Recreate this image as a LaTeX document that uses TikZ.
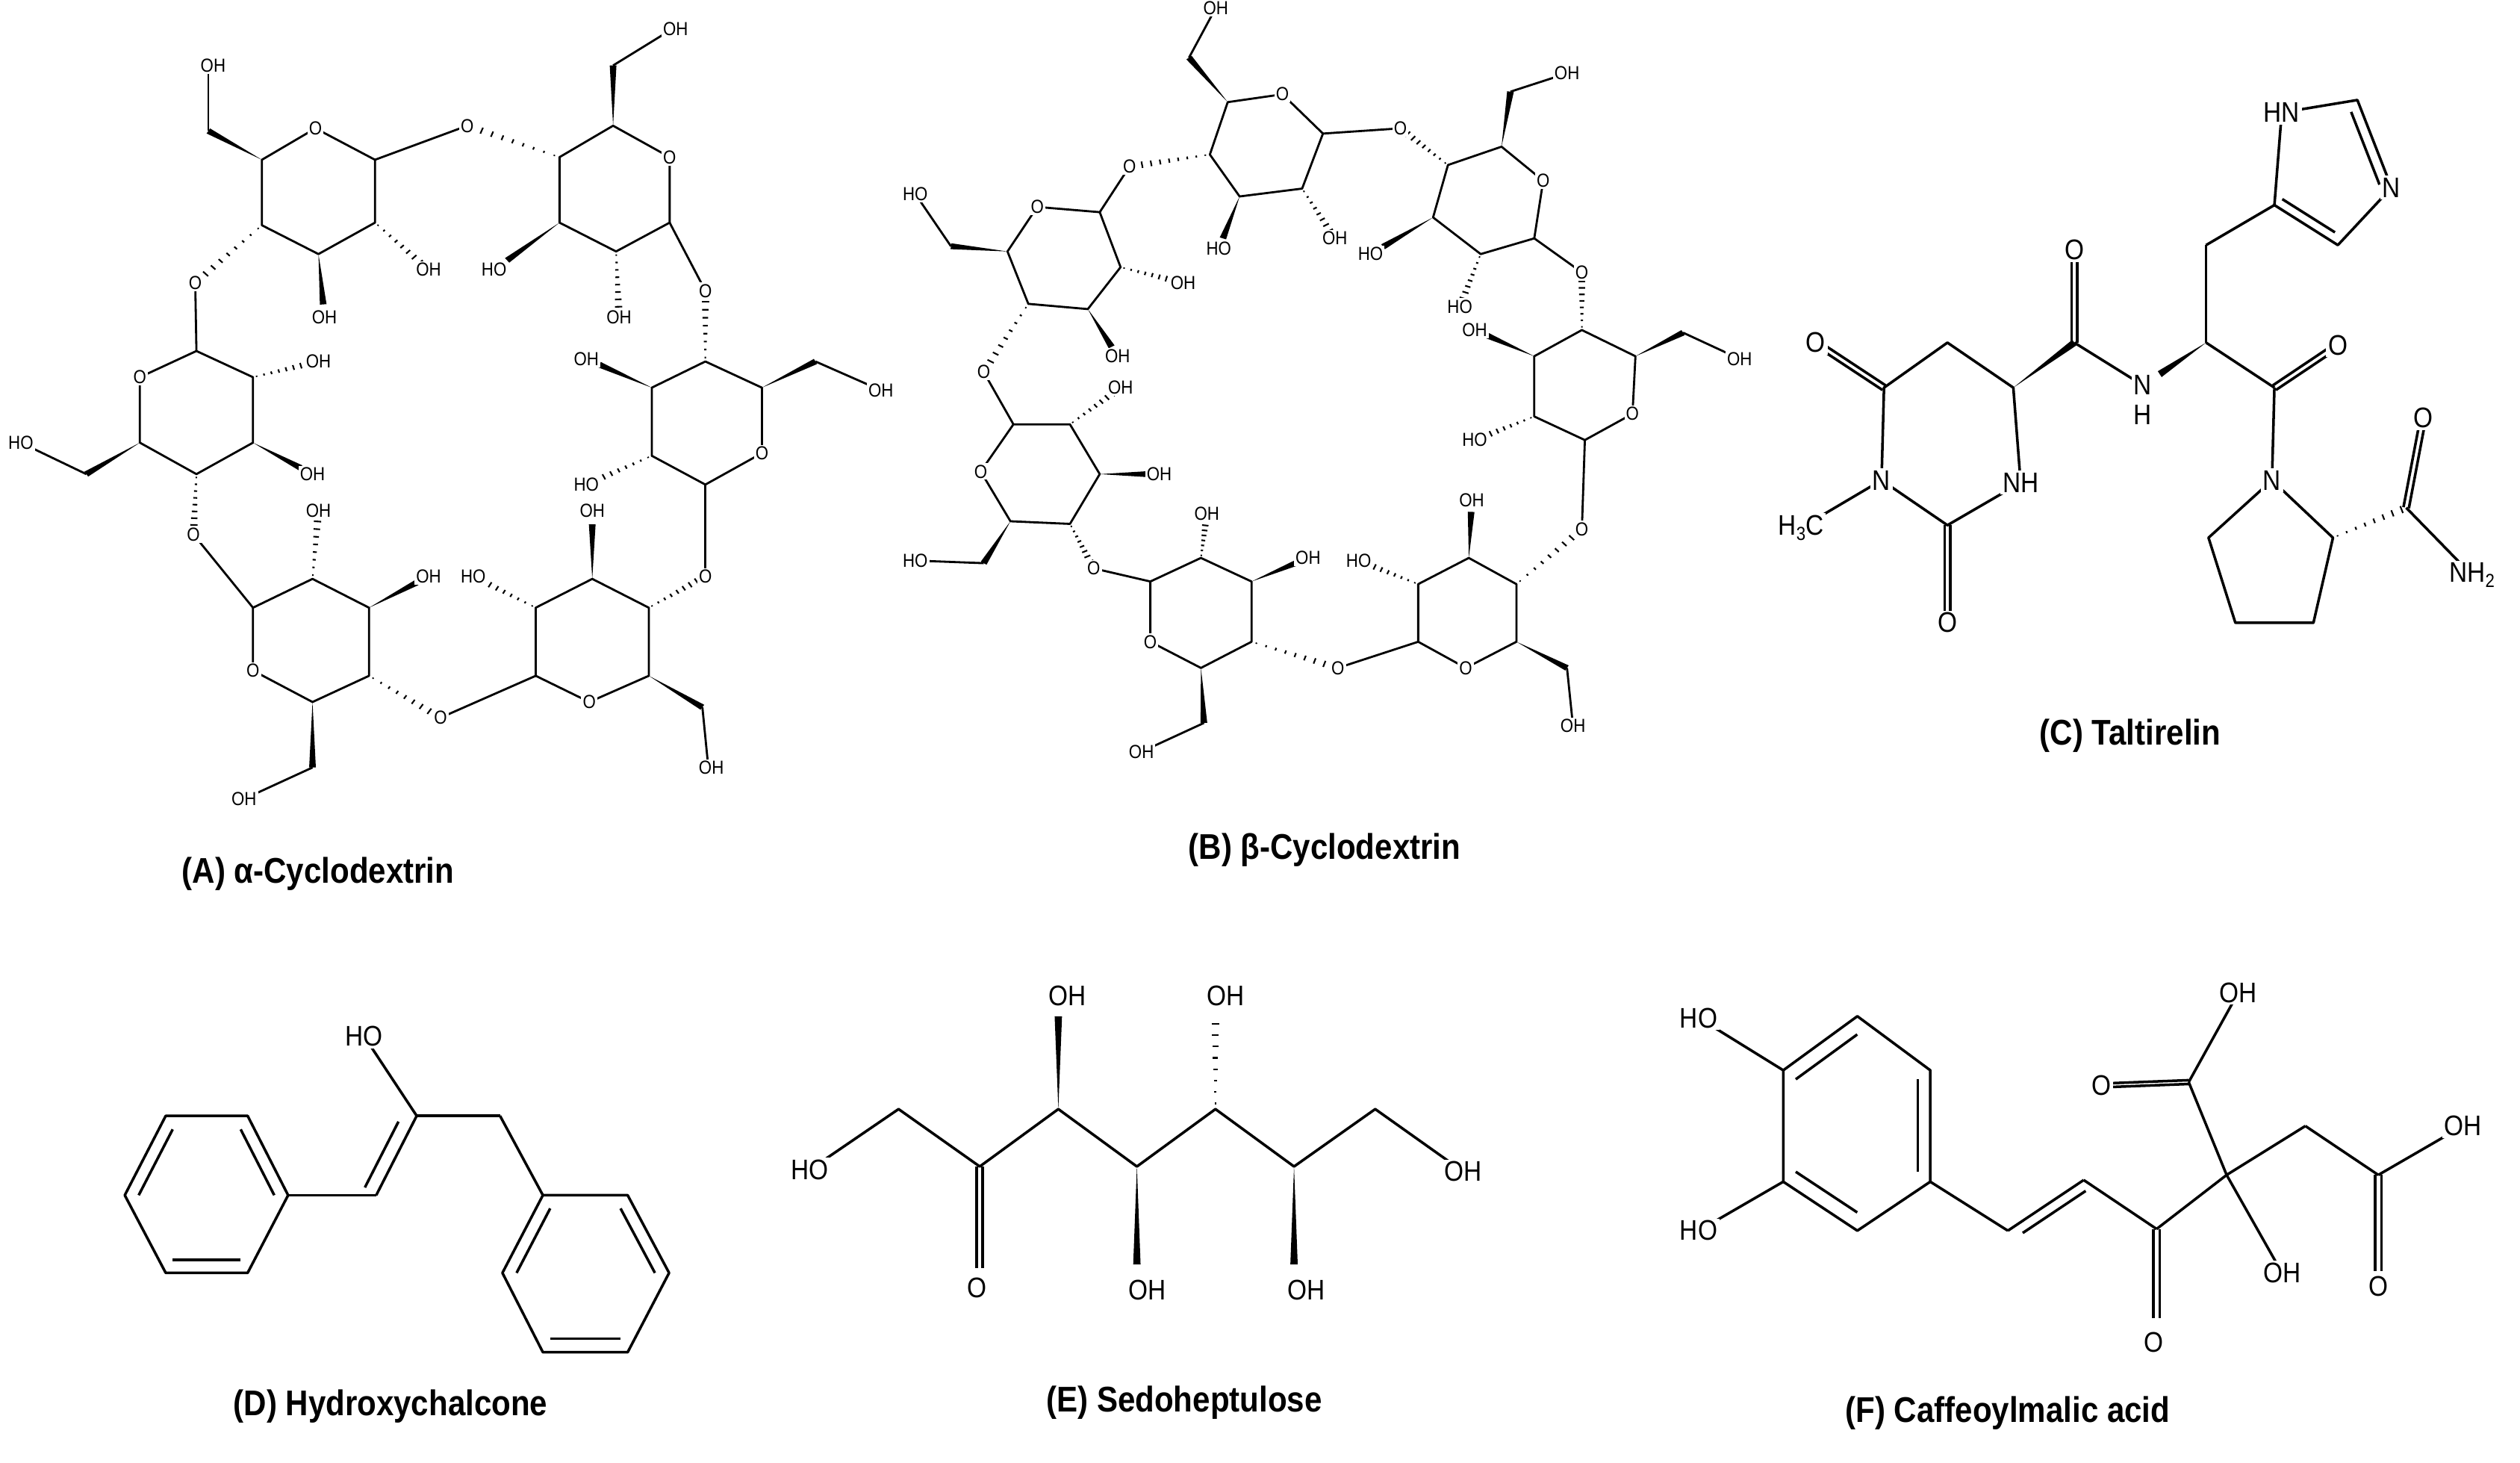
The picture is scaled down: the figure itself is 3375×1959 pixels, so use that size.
\documentclass[tikz,border=0pt]{standalone}
\usepackage{fontspec}
\setmainfont[FakeStretch=0.88]{Liberation Sans}
\usetikzlibrary{calc}
\def\wdw{1pt}\def\wdwn{1}\def\dbw{0.8pt}
\newcommand\bd[2]{\draw (#1) -- (#2);}
\newcommand\wdg[2]{\fill (#1) -- ($(#2)!\wdw!90:(#1)$) -- ($(#2)!\wdw!-90:(#1)$) -- cycle;}
\newcommand\wdgL[2]{\coordinate (tmpe) at ($(#1)!0.8!(#2)$); \wdg{#1}{tmpe}}
\newcommand\hsh[2]{\foreach \hh in {1,...,8}{\pgfmathsetmacro\ff{(\hh-0.5)/8}\pgfmathsetmacro\dd{0.12+\ff*\wdwn}\draw[line width=0.3pt] ($(#1)!\ff!(#2)!\dd pt!90:(#2)$) -- ($(#1)!\ff!(#2)!\dd pt!-90:(#2)$);}}
\newcommand\hshL[2]{\coordinate (tmph) at ($(#1)!0.9!(#2)$); \hsh{#1}{tmph}}
\newcommand\inb[3]{\draw ($(#1)!0.17!(#3)$) -- ($(#2)!0.17!(#3)$);}
\newcommand\dbo[2]{\draw ($(#1)!\dbw!90:(#2)$) -- ($(#2)!\dbw!-90:(#1)$); \draw ($(#1)!\dbw!-90:(#2)$) -- ($(#2)!\dbw!90:(#1)$);}
\newcommand\lb[2]{\node[lbl] at (#1) {#2};}
\newcommand\smlab[2]{\node[slb] at (#1) {#2};}
\tikzset{
 lbl/.style={font=\fontsize{5.4}{6}\selectfont, fill=white, inner sep=0.4pt},
 slb/.style={font=\fontsize{3.6}{4}\selectfont, fill=white, inner sep=0.3pt},
 ttl/.style={font=\bfseries\fontsize{6.8}{8}\selectfont, inner sep=0pt},
}
\begin{document}
\begin{tikzpicture}[x=0.05mm,y=-0.05mm,line width=0.5pt,line join=round]
\useasboundingbox[fill=white] (0,0) rectangle (3375,1959);
%================ A
\begin{scope}[xscale=0.7972,yscale=0.7015,line width=0.4pt]
\def\wdw{0.8pt}\def\wdwn{0.8}
\draw (440,305)--(530,245)--(630,305)--(630,425)--(535,485)--(440,430)--cycle;
\wdg{440,305}{350,250}\bd{350,250}{350,140}
\bd{630,305}{785,240}\hshL{630,425}{720,515}\wdgL{535,485}{545,605}\hshL{440,430}{328,540}
\draw (1030,240)--(1125,300)--(1125,425)--(1035,480)--(940,425)--(940,300)--cycle;
\wdg{1030,240}{1030,125}\bd{1030,125}{1130,55}
\hshL{940,300}{785,240}\wdgL{940,425}{830,515}\hshL{1035,480}{1040,605}\bd{1125,425}{1185,555}
\draw (1185,690)--(1280,740)--(1280,865)--(1185,925)--(1095,870)--(1095,740)--cycle;
\hshL{1185,690}{1185,555}\wdg{1280,740}{1370,690}\bd{1370,690}{1480,745}
\wdgL{1095,740}{985,685}\hshL{1095,870}{985,925}\bd{1185,925}{1185,1100}
\draw (995,1105)--(1090,1160)--(1090,1290)--(990,1340)--(900,1290)--(900,1160)--cycle;
\hshL{1090,1160}{1185,1100}\wdg{1090,1290}{1180,1350}\bd{1180,1350}{1190,1465}
\wdgL{995,1105}{995,975}\hshL{900,1160}{795,1100}\bd{900,1290}{740,1370}
\draw (525,1105)--(620,1160)--(620,1290)--(525,1340)--(425,1280)--(425,1160)--cycle;
\hshL{620,1290}{740,1370}\wdg{525,1340}{525,1465}\bd{525,1465}{410,1525}
\hshL{525,1105}{535,975}\wdgL{620,1160}{720,1100}\bd{425,1160}{325,1020}
\draw (330,670)--(425,720)--(425,845)--(330,905)--(235,845)--(235,720)--cycle;
\hshL{330,905}{325,1020}\wdg{235,845}{145,905}\bd{145,905}{35,845}
\bd{330,670}{328,540}\hshL{425,720}{535,690}\wdgL{425,845}{525,905}
\smlab{530,245}{O}\smlab{358,125}{OH}\smlab{785,240}{O}\smlab{720,515}{OH}\smlab{545,605}{OH}\smlab{328,540}{O}
\smlab{1125,300}{O}\smlab{1135,55}{OH}\smlab{830,515}{HO}\smlab{1040,605}{OH}\smlab{1185,555}{O}
\smlab{1280,865}{O}\smlab{1480,745}{OH}\smlab{985,685}{OH}\smlab{985,925}{HO}\smlab{1185,1100}{O}
\smlab{990,1340}{O}\smlab{1195,1465}{OH}\smlab{995,975}{OH}\smlab{795,1100}{HO}\smlab{740,1370}{O}
\smlab{425,1280}{O}\smlab{410,1525}{OH}\smlab{535,975}{OH}\smlab{720,1100}{OH}\smlab{325,1020}{O}
\smlab{235,720}{O}\smlab{35,845}{HO}\smlab{535,690}{OH}\smlab{525,905}{OH}
\end{scope}
\node[ttl] (ta) at (426,1170) {(A) α-Cyclodextrin};
%================ B
\begin{scope}[shift={(1150,0)},xscale=0.7972,yscale=0.7015,line width=0.4pt]
\def\wdw{0.8pt}\def\wdwn{0.8}
\draw (620,195)--(712,180)--(780,255)--(745,360)--(640,375)--(590,295)--cycle;
\wdg{620,195}{555,110}\bd{555,110}{600,15}
\bd{780,255}{910,245}\hshL{590,295}{455,318}\wdgL{640,375}{605,475}\hshL{745,360}{800,455}
\draw (1080,280)--(1150,345)--(1135,455)--(1045,485)--(965,415)--(990,315)--cycle;
\hshL{990,315}{910,245}\wdg{1080,280}{1095,175}\bd{1095,175}{1190,140}
\wdgL{965,415}{860,485}\hshL{1045,485}{1010,585}\bd{1135,455}{1215,520}
\draw (1215,630)--(1305,680)--(1300,790)--(1220,840)--(1135,795)--(1135,680)--cycle;
\hshL{1215,630}{1215,520}\wdg{1305,680}{1385,635}\bd{1385,635}{1480,685}
\wdgL{1135,680}{1035,630}\hshL{1135,795}{1035,840}\bd{1220,840}{1215,1010}
\draw (1025,1065)--(1105,1115)--(1105,1225)--(1020,1275)--(940,1225)--(940,1115)--cycle;
\hshL{1105,1115}{1215,1010}\wdg{1105,1225}{1190,1275}\bd{1190,1275}{1200,1385}
\wdgL{1025,1065}{1030,955}\hshL{940,1115}{840,1070}\bd{940,1225}{805,1275}
\draw (575,1065)--(660,1110)--(660,1225)--(575,1275)--(490,1225)--(490,1110)--cycle;
\hshL{660,1225}{805,1275}\wdg{575,1275}{580,1380}\bd{580,1380}{475,1435}
\hshL{575,1065}{585,980}\wdgL{660,1110}{755,1065}\bd{490,1110}{395,1085}
\draw (260,810)--(355,810)--(405,905)--(355,1000)--(255,995)--(205,900)--cycle;
\hshL{355,1000}{395,1085}\wdg{255,995}{210,1075}\bd{210,1075}{95,1070}
\bd{260,810}{210,710}\hshL{355,810}{440,740}\wdgL{405,905}{505,905}
\draw (250,480)--(300,395)--(405,405)--(440,510)--(385,590)--(285,580)--cycle;
\hshL{285,580}{210,710}\wdg{250,480}{155,470}\bd{155,470}{95,370}
\hshL{440,510}{545,540}\wdgL{385,590}{435,680}\bd{405,405}{455,318}
\smlab{712,180}{O}\smlab{600,15}{OH}\smlab{910,245}{O}\smlab{455,318}{O}\smlab{605,475}{HO}\smlab{800,455}{OH}
\smlab{1150,345}{O}\smlab{1190,140}{OH}\smlab{860,485}{HO}\smlab{1010,585}{HO}\smlab{1215,520}{O}
\smlab{1300,790}{O}\smlab{1480,685}{OH}\smlab{1035,630}{OH}\smlab{1035,840}{HO}\smlab{1215,1010}{O}
\smlab{1020,1275}{O}\smlab{1200,1385}{OH}\smlab{1030,955}{OH}\smlab{840,1070}{HO}\smlab{805,1275}{O}
\smlab{490,1225}{O}\smlab{475,1435}{OH}\smlab{585,980}{OH}\smlab{755,1065}{OH}\smlab{395,1085}{O}
\smlab{205,900}{O}\smlab{95,1070}{HO}\smlab{210,710}{O}\smlab{440,740}{OH}\smlab{505,905}{OH}
\smlab{300,395}{O}\smlab{95,370}{HO}\smlab{545,540}{OH}\smlab{435,680}{OH}
\end{scope}
\node[ttl] (tb) at (1774,1138) {(B) β-Cyclodextrin};
%================ C
\begin{scope}[shift={(2350,0)},xscale=0.6536,yscale=0.6698]
\draw (265,775)--(395,685)--(530,775)--(545,965)--(395,1050)--(260,960)--cycle;
\dbo{265,775}{125,685}\bd{260,960}{95,1055}\dbo{395,1050}{395,1245}
\wdg{530,775}{655,685}\dbo{655,685}{655,500}\bd{655,685}{795,770}
\wdg{925,685}{830,748}\bd{925,685}{925,490}\bd{925,490}{1065,410}
\draw (1065,410)--(1080,225)--(1235,200)--(1305,375)--(1195,490)--cycle;
\inb{1235,200}{1305,375}{1160,340}\inb{1195,490}{1065,410}{1160,340}
\bd{925,685}{1065,775}\dbo{1065,775}{1195,690}\bd{1065,775}{1060,960}
\draw (1060,960)--(1185,1075)--(1145,1245)--(985,1245)--(930,1075)--cycle;
\hsh{1185,1075}{1335,1015}\dbo{1335,1015}{1370,835}\bd{1335,1015}{1470,1150}
\lb{125,685}{O}\lb{95,1055}{H\raisebox{-0.35ex}{\fontsize{3.6}{4}\selectfont 3}C}\lb{395,1245}{O}
\lb{545,965}{NH}\lb{260,960}{N}\lb{655,500}{O}\lb{795,770}{N}\lb{795,830}{H}
\lb{1080,225}{HN}\lb{1305,375}{N}\lb{1195,690}{O}\lb{1060,960}{N}\lb{1370,835}{O}
\lb{1470,1150}{NH\raisebox{-0.35ex}{\fontsize{3.6}{4}\selectfont 2}}
\end{scope}
\node[ttl] (tc) at (2853,985) {(C) Taltirelin};
%================ D
\begin{scope}[shift={(0,1250)},xscale=0.6378,yscale=0.4522]
\draw (348,540)--(520,540)--(605,775)--(520,1005)--(348,1005)--(262,775)--cycle;
\inb{262,775}{348,540}{434,775}\inb{520,540}{605,775}{434,775}\inb{520,1005}{348,1005}{434,775}
\bd{605,775}{790,775}\bd{790,775}{875,540}\inb{790,775}{875,540}{650,640}
\bd{875,540}{765,305}\bd{875,540}{1050,540}\bd{1050,540}{1140,775}
\draw (1140,775)--(1318,775)--(1405,1005)--(1318,1240)--(1140,1240)--(1055,1005)--cycle;
\inb{1140,775}{1055,1005}{1230,1005}\inb{1318,775}{1405,1005}{1230,1005}\inb{1318,1240}{1140,1240}{1230,1005}
\lb{765,305}{HO}
\end{scope}
\node[ttl] (td) at (523,1883) {(D) Hydroxychalcone};
%================ E
\begin{scope}[shift={(1000,1250)},xscale=0.7015,yscale=0.4522]
\draw (120,700)--(290,520)--(445,690)--(595,520)--(745,690)--(895,520)--(1045,690)--(1200,520)--(1368,705);
\dbo{445,690}{445,990}
\wdg{595,520}{595,245}\hsh{895,520}{895,250}\wdg{745,690}{745,980}\wdg{1045,690}{1045,980}
\lb{120,700}{HO}\lb{440,1050}{O}\lb{612,185}{OH}\lb{915,185}{OH}\lb{765,1055}{OH}\lb{1068,1055}{OH}\lb{1368,705}{OH}
\end{scope}
\node[ttl] (te) at (1586,1878) {(E) Sedoheptulose};
%================ F
\begin{scope}[shift={(2150,1250)},xscale=0.7813,yscale=0.4522]
\draw (432,245)--(557,405)--(557,735)--(432,880)--(305,735)--(305,405)--cycle;
\inb{305,405}{432,245}{431,562}\inb{557,405}{557,735}{431,562}\inb{305,735}{432,880}{431,562}
\bd{305,405}{160,250}\bd{305,735}{160,880}
\bd{557,735}{690,880}\bd{690,880}{820,730}\inb{690,880}{820,730}{840,920}
\bd{820,730}{945,875}\dbo{945,875}{945,1140}
\bd{945,875}{1065,715}\bd{1065,715}{1000,440}\dbo{1000,440}{850,450}\bd{1000,440}{1085,175}
\bd{1065,715}{1160,1005}\bd{1065,715}{1200,570}\bd{1200,570}{1325,715}
\dbo{1325,715}{1325,1000}\bd{1325,715}{1470,570}
\lb{160,250}{HO}\lb{160,880}{HO}\lb{940,1210}{O}\lb{850,450}{O}\lb{1085,175}{OH}
\lb{1160,1005}{OH}\lb{1325,1045}{O}\lb{1470,570}{OH}
\end{scope}
\node[ttl] (tf) at (2689,1892) {(F) Caffeoylmalic acid};
\end{tikzpicture}
\end{document}
